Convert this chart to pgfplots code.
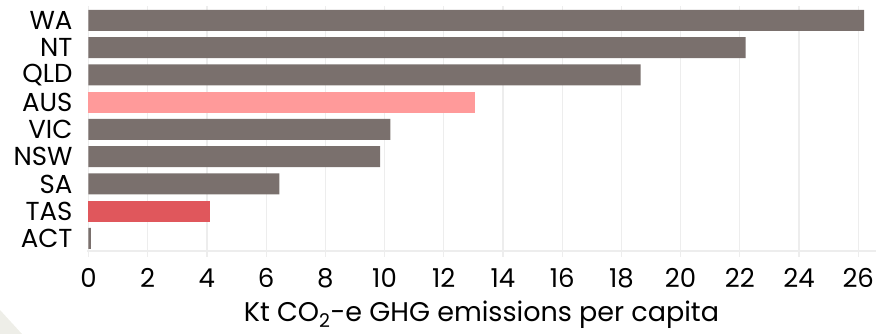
\documentclass[border=0pt]{standalone}
\usepackage{pgfplots}
\pgfplotsset{compat=1.18}
\usepackage{fontspec}
\setmainfont{Poppins}
\definecolor{barg}{HTML}{7A706D}
\definecolor{barp}{HTML}{FF9A9A}
\definecolor{barr}{HTML}{E0575C}
\definecolor{gridc}{HTML}{EDEDED}
\definecolor{wmark}{HTML}{EEEEE8}
\begin{document}
\begin{tikzpicture}
\useasboundingbox (-87pt,-83pt) rectangle (789pt,251pt);
\fill[wmark] (-87pt,-59pt) -- (-65pt,-83pt) -- (-87pt,-83pt) -- cycle;
\begin{axis}[
  at={(0pt,0pt)}, anchor=south west,
  scale only axis, width=789pt, height=245pt,
  xmin=-0.05, xmax=26.6, ymin=-0.46, ymax=8.53,
  xbar, bar width=21pt, bar shift=0pt,
  ytick={0,...,8},
  yticklabels={ACT,TAS,SA,NSW,VIC,AUS,QLD,NT,WA},
  xtick={0,2,...,26},
  /pgf/number format/assume math mode=true,
  axis x line*=bottom, axis y line*=left,
  x axis line style={gridc, line width=1.5pt},
  y axis line style={draw=none},
  xmajorgrids, grid style={gridc, line width=1.2pt},
  tick align=outside, major tick length=6pt,
  xtick style={gridc, line width=1.2pt},
  ytick style={draw=none},
  font=\fontsize{26}{30}\selectfont,
  ticklabel style={font=\fontsize{26}{30}\selectfont, text=black},
  xticklabel style={anchor=base, yshift=-31pt},
  yticklabel style={anchor=east, xshift=-5pt},
  xlabel={Kt CO\textsubscript{2}-e GHG emissions per capita},
  xlabel style={at={(axis description cs:0.5,0)}, anchor=base, yshift=-71pt, inner sep=0pt, font=\fontsize{27}{30}\selectfont},
]
\addplot[fill=barg, draw=none] coordinates {(26.2,8) (22.2,7) (18.65,6) (10.2,4) (9.85,3) (6.45,2) (0.08,0)};
\addplot[fill=barp, draw=none] coordinates {(13.05,5)};
\addplot[fill=barr, draw=none] coordinates {(4.12,1)};
\end{axis}
\end{tikzpicture}
\end{document}
